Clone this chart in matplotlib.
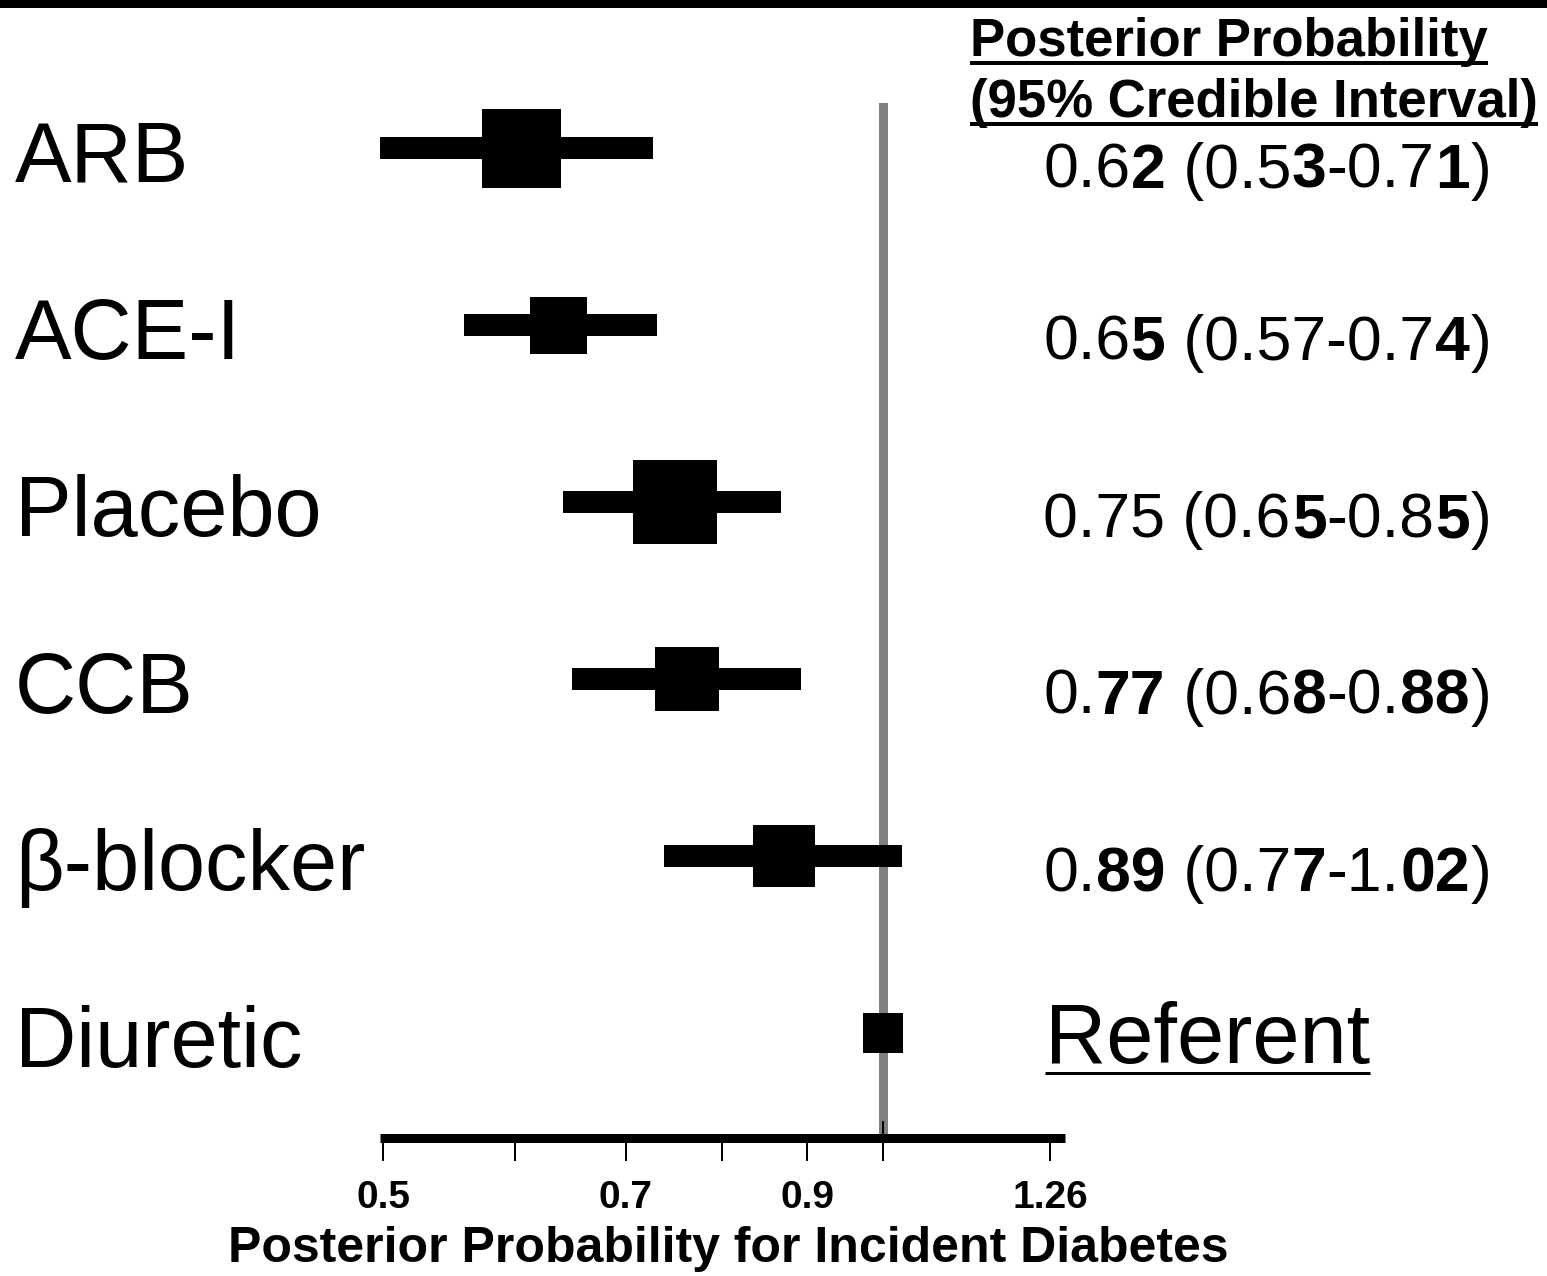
import numpy as np
import matplotlib
matplotlib.use("Agg")
import matplotlib.pyplot as plt
from matplotlib import font_manager, transforms
from matplotlib.ft2font import FT2Font
from matplotlib.lines import Line2D
from matplotlib.patches import Rectangle
from matplotlib.ticker import FixedLocator, FixedFormatter, NullLocator

W, H, DPI = 1547, 1276, 100
FONT = "Liberation Sans"
plt.rcParams["font.family"] = [FONT, "DejaVu Sans"]

# ---- data (plotted positions, log axis)
groups = ["ARB", "ACE-I", "Placebo", "CCB", "β-blocker", "Diuretic"]
est = [0.605, 0.637, 0.749, 0.762, 0.871, 1.0]
ci_lo = [0.497, 0.559, 0.642, 0.650, 0.738, np.nan]
ci_hi = [0.727, 0.731, 0.868, 0.892, 1.026, np.nan]
box_px = [79, 57, 84, 64, 62, 40]          # square side, pixels

# right-hand column, (piece, bold) as typeset on the slide
summaries = [
    [("0.6", 0), ("2", 1), (" (0.5", 0), ("3", 1), ("-0.7", 0), ("1", 1), (")", 0)],
    [("0.6", 0), ("5", 1), (" (0.57-0.7", 0), ("4", 1), (")", 0)],
    [("0.75 (0.6", 0), ("5", 1), ("-0.8", 0), ("5", 1), (")", 0)],
    [("0.", 0), ("77", 1), (" (0.6", 0), ("8", 1), ("-0.", 0), ("88", 1), (")", 0)],
    [("0.", 0), ("89", 1), (" (0.7", 0), ("7", 1), ("-1.", 0), ("02", 1), (")", 0)],
]
referent = "Referent"
header = ["Posterior Probability", "(95% Credible Interval)"]
ticks = [0.5, 0.6, 0.7, 0.8, 0.9, 1.0, 1.26]
tick_labels = ["0.5", "", "0.7", "", "0.9", "", "1.26"]
xlabel = "Posterior Probability for Incident Diabetes"


def pt(px):
    return px * 72.0 / DPI


def advance_px(s, bold, size):
    fp = font_manager.FontProperties(family=FONT, weight="bold" if bold else "normal")
    f = FT2Font(font_manager.findfont(fp), hinting_factor=1)
    f.set_size(size, DPI)
    return sum(f.load_char(ord(c)).linearHoriAdvance for c in s) / 65536.0


# layout in pixels
AX_L, AX_R, AX_T, AX_B = 380, 1065, 103, 1138
ROW0, ROW_STEP = 148, 177

fig = plt.figure(figsize=(W / DPI, H / DPI), dpi=DPI)
ax = fig.add_axes([AX_L / W, 1 - AX_B / H, (AX_R - AX_L) / W, (AX_B - AX_T) / H])
n = len(groups)
ax.set_xscale("log")
ax.set_xlim(0.5 * np.exp((AX_L - 383) / 722), 0.5 * np.exp((AX_R - 383) / 722))
ax.set_ylim(n - 1 + (AX_B - (ROW0 + ROW_STEP * (n - 1))) / ROW_STEP,
            -(ROW0 - AX_T) / ROW_STEP)

ax.axvline(1.0, color="#808080", lw=pt(9), zorder=0)
for i in range(n):
    if not np.isnan(ci_lo[i]):
        ax.plot([ci_lo[i], ci_hi[i]], [i, i], color="k", lw=pt(22),
                solid_capstyle="butt", zorder=2)
    ax.plot(est[i], i, marker="s", ms=pt(box_px[i]), mew=0, color="k",
            ls="none", zorder=3)

for s in ("left", "top", "right"):
    ax.spines[s].set_visible(False)
ax.spines["bottom"].set_linewidth(pt(9))
ax.spines["bottom"].set_capstyle("butt")
ax.set_yticks([])
ax.xaxis.set_major_locator(FixedLocator(ticks))
ax.xaxis.set_major_formatter(FixedFormatter(tick_labels))
ax.xaxis.set_minor_locator(NullLocator())
ax.tick_params(axis="x", direction="out", length=pt(23), width=pt(2),
               pad=pt(19), labelsize=28)
for lbl in ax.get_xticklabels():
    lbl.set_fontweight("bold")
# the 1.0 tick pokes up through the axis line
ax.plot([1.0, 1.0], [0, 16 / (AX_B - AX_T)], transform=ax.get_xaxis_transform(),
        color="k", lw=pt(2), clip_on=False, zorder=4)

ax.set_xlabel(xlabel, fontsize=36, fontweight="bold", va="baseline")
ax.xaxis.set_label_coords((728 - AX_L) / (AX_R - AX_L), -(1262 - AX_B) / (AX_B - AX_T))

row_tf = transforms.blended_transform_factory(fig.transFigure, ax.transData)


def row_text(x_px, i, dy_px, s, **kw):
    tf = row_tf + transforms.ScaledTranslation(0, -dy_px / DPI, fig.dpi_scale_trans)
    return ax.text(x_px / W, i, s, transform=tf, ha="left", va="baseline", **kw)


for i, g in enumerate(groups):
    row_text(15, i, 34, g, fontsize=61)

VAL_SIZE = 45
for i, pieces in enumerate(summaries):
    x = 1043
    dy = 40 if i == 0 else 35
    for s, b in pieces:
        row_text(x, i, dy, s, fontsize=VAL_SIZE, fontweight="bold" if b else "normal")
        x += advance_px(s, b, VAL_SIZE)

fig.canvas.draw()
r = fig.canvas.get_renderer()


def underline(t, y_px, lw_px):
    bb = t.get_window_extent(r)
    fig.add_artist(Line2D([bb.x0 / W, bb.x1 / W], [1 - y_px / H] * 2,
                          transform=fig.transFigure, color="k", lw=pt(lw_px),
                          solid_capstyle="butt"))


t = row_text(1045, n - 1, 30, referent, fontsize=61)
underline(t, 1073, 3)

for k, line in enumerate(header):
    base = 56 + 61 * k
    t = fig.text(970 / W, 1 - base / H, line, ha="left", va="baseline",
                 fontsize=38, fontweight="bold")
    underline(t, base + 7, 4)

fig.add_artist(Rectangle((0, 1 - 8 / H), 1, 8 / H, transform=fig.transFigure,
                         color="k", lw=0))

fig.savefig("out.png", dpi=DPI)
